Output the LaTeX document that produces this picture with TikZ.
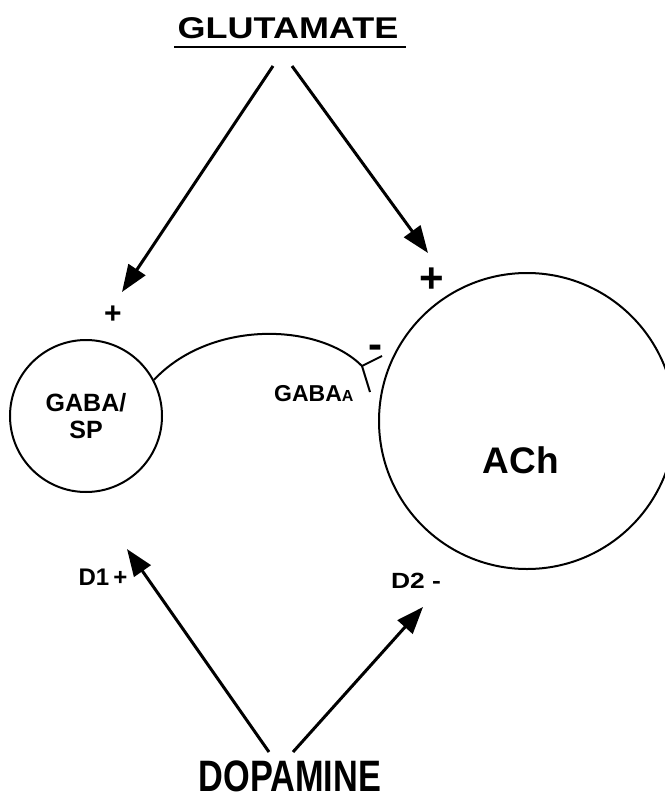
\documentclass[tikz,border=0pt]{standalone}
\usepackage{fontspec}
\setmainfont{Liberation Sans}
\usetikzlibrary{arrows.meta}
\newcommand{\fs}[1]{\fontsize{#1}{#1}\selectfont}
\begin{document}
\begin{tikzpicture}[x=1pt,y=-1pt,
  lbl/.style={font=\bfseries, inner sep=0pt},
  cell/.style={draw, circle, line width=2pt, inner sep=0pt},
  feed/.style={line width=3pt, -{Triangle[length=27pt,width=20pt]}},
  axon/.style={line width=2pt},
]
\useasboundingbox (0,0) rectangle (664,797);

% transmitter sources
\node[lbl, anchor=base] (glu) at (288,39) {\scalebox{1.2}[1]{\fs{30}GLUTAMATE}};
\draw[line width=2.2pt] ([xshift=-3pt,yshift=-8pt]glu.base west) -- ([xshift=7pt,yshift=-8pt]glu.base east);
\node[lbl, anchor=base] (dopa) at (290,791)
  {\raisebox{0pt}[\height][0pt]{\scalebox{0.78}[1]{\fs{44}DOPAMINE}}};

% the two cells
\node[cell, minimum size=152pt, align=center, font=\bfseries\fs{25}] (gaba) at (86,416)
  {GABA/\\[2pt]SP};
\node[cell, minimum size=296pt] (ach) at (527,421) {};
\node[lbl, font=\bfseries\fs{37}] (achlbl) at (521,460) {ACh};

% arrow end points
\coordinate (g1) at (273,66);
\coordinate (g2) at (292,66);
\coordinate (tg1) at (122,292);
\coordinate (tg2) at (428,253);
\coordinate (d1) at (269,752);
\coordinate (d2) at (293,752);
\coordinate (td1) at (127,549);
\coordinate (td2) at (423,607);

\draw[feed] (g1) -- (tg1);
\draw[feed] (g2) -- (tg2);
\draw[feed] (d1) -- (td1);
\draw[feed] (d2) -- (td2);

% GABAergic projection onto the cholinergic cell
\coordinate (syn) at (362,366);
\coordinate (synA) at (382,356);
\coordinate (synB) at (370,392);
\draw[axon] (gaba.28) .. controls (210,320) and (318,322) .. (syn);
\draw[axon] (syn) -- (synA);
\draw[axon] (syn) -- (synB);

% signs and receptor labels
\node[lbl, font=\bfseries\fs{30}] (pl1) at (113,315) {+};
\node[lbl, font=\bfseries\fs{42}] (pl2) at (432,280) {+};
\node[lbl, anchor=base, font=\bfseries\fs{42}] (mi) at (375,358) {-};
\node[lbl, anchor=base west, font=\bfseries\fs{23}] (gabaa) at (274,401) {GABA{\fs{16}A}};
\node[lbl, anchor=base, font=\bfseries\fs{24}] (dr1) at (103,585) {D1\,+};
\node[lbl, anchor=base, font=\bfseries\fs{22}] (dr2) at (416,588) {\scalebox{1.2}[1]{D2 -}};
\end{tikzpicture}
\end{document}
